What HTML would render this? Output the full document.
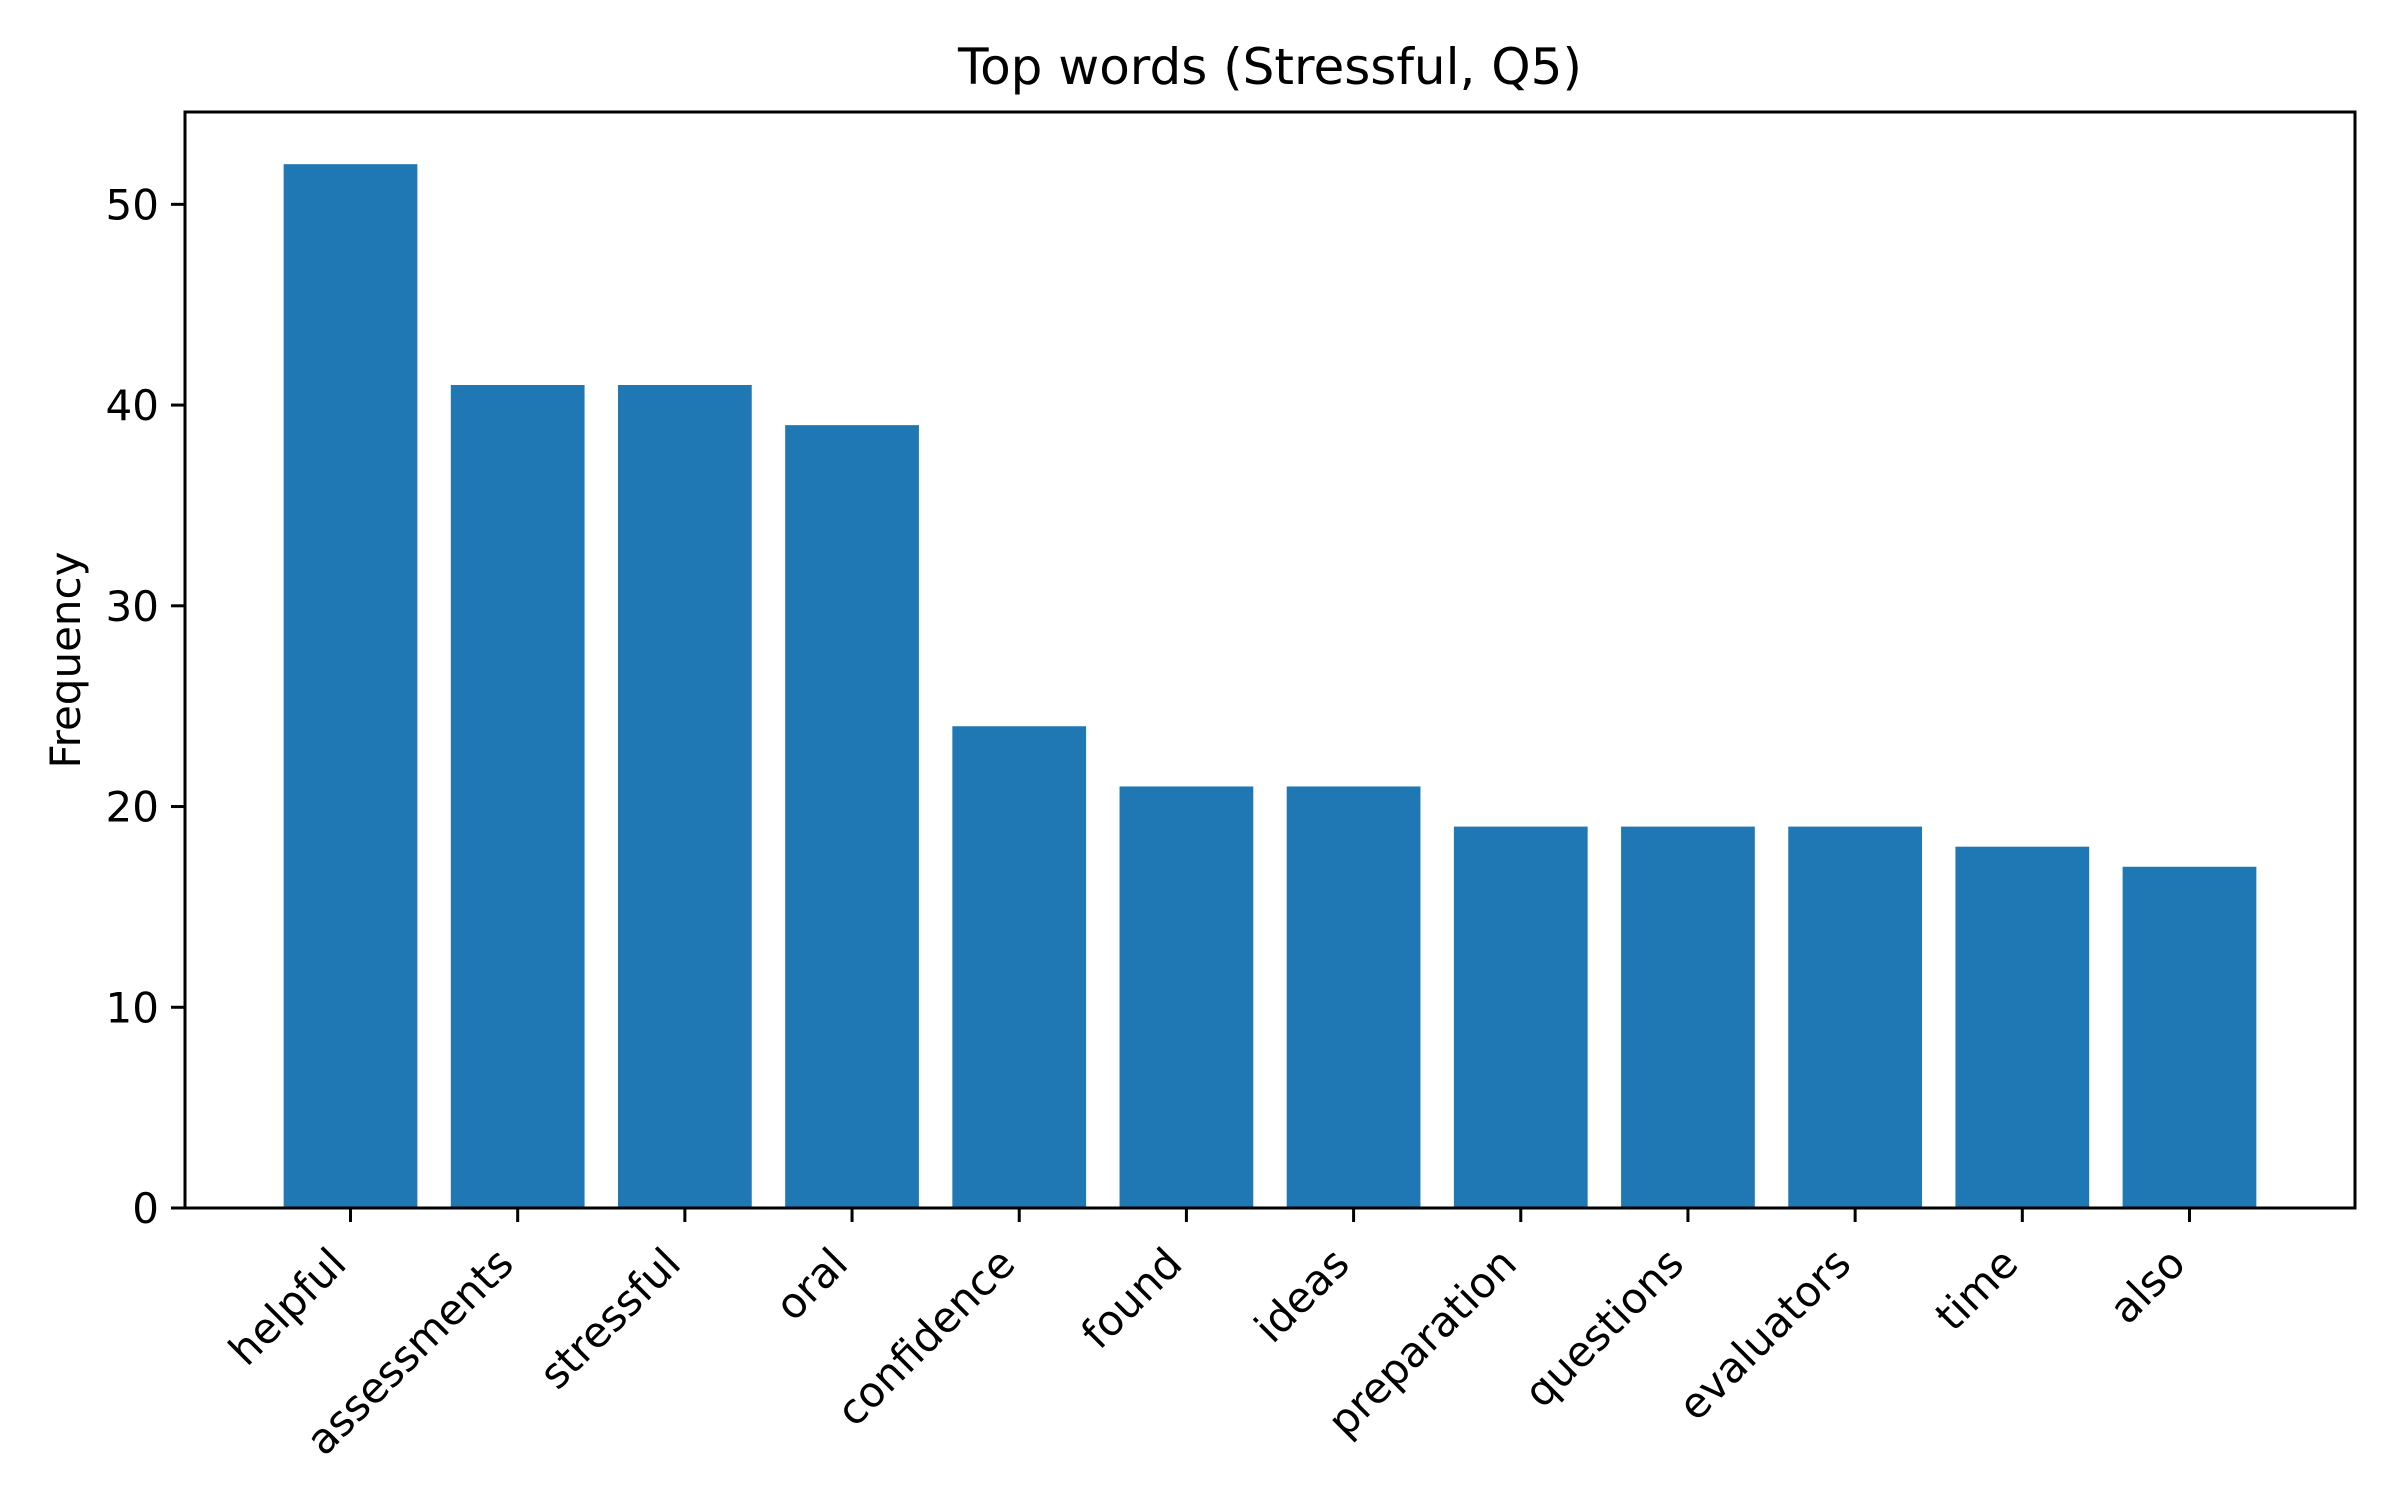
<!DOCTYPE html>
<html><head><meta charset="utf-8"><style>body{margin:0;background:#fff}svg{display:block}text{font-family:"DejaVu Sans","Liberation Sans",sans-serif;fill:#000}</style></head>
<body>
<svg id="chart" width="2400" height="1500">
<rect width="2400" height="1500" fill="#fff"/>
</svg>
<script>
const categories = ["helpful","assessments","stressful","oral","confidence","found","ideas","preparation","questions","evaluators","time","also"];
const values = [52,41,41,39,24,21,21,19,19,19,18,17];
const yTicks = [0,10,20,30,40,50];
const titleText = "Top words (Stressful, Q5)";
const yLabelText = "Frequency";

const L=185,R=2355,T=112,B=1208;
const yMax=Math.max(...values)*1.05;
const xMin=-0.99, xMax=categories.length-1+0.99;
const xs=i=>L+(i-xMin)/(xMax-xMin)*(R-L);
const ys=v=>B-v/yMax*(B-T);
const NS="http://www.w3.org/2000/svg";
const svg=document.getElementById('chart');
function mk(tag,attrs,parent){const e=document.createElementNS(NS,tag);for(const k in attrs)e.setAttribute(k,attrs[k]);(parent||svg).appendChild(e);return e;}
const bw=0.8*(R-L)/(xMax-xMin);
values.forEach((v,i)=>{
  const r=mk('rect',{x:xs(i)-bw/2,y:ys(v),width:bw,height:B-ys(v),fill:'#1f77b4'});
  
  
});
categories.forEach((c,i)=>{
  const x=xs(i);
  const tk=mk('line',{x1:x,y1:B,x2:x,y2:B+14,stroke:'#000','stroke-width':3});
  
  
  const ax=x-2, ay=B+58;
  const t=mk('text',{x:ax,y:ay,'font-size':42,'text-anchor':'end',transform:`rotate(-45 ${ax} ${ay})`});
  t.textContent=c;
  
  
});
yTicks.forEach(v=>{
  const y=ys(v);
  const tk=mk('line',{x1:L-14,y1:y,x2:L,y2:y,stroke:'#000','stroke-width':3});
  
  
  const t=mk('text',{x:L-26,y:y+15,'font-size':42,'text-anchor':'end'});
  t.textContent=v;
  
  
});
const frame=mk('rect',{x:L,y:T,width:R-L,height:B-T,fill:'none',stroke:'#000','stroke-width':3});


const title=mk('text',{x:(L+R)/2,y:84,'font-size':50,'text-anchor':'middle'});
title.textContent=titleText;


const yl=mk('text',{x:80,y:(T+B)/2,'font-size':42,'text-anchor':'middle',transform:`rotate(-90 80 ${(T+B)/2})`});
yl.textContent=yLabelText;


</script>
</body></html>
